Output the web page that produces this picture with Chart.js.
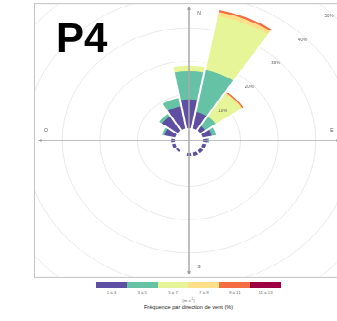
<!DOCTYPE html>
<html>
<head>
<meta charset="utf-8">
<script src="https://cdn.jsdelivr.net/npm/chart.js@4.4.0/dist/chart.umd.min.js"></script>
<style>
  html, body { margin: 0; padding: 0; background: #fff; }
  body { width: 337px; height: 321px; position: relative; overflow: hidden; font-family: "Liberation Sans", Arial, sans-serif; }
  #frame { position: absolute; left: 34px; top: 3px; width: 310px; height: 310px; box-sizing: border-box;
           border: 1px solid #c4c4c4; overflow: hidden; transform-origin: 0 0; transform: scaleY(0.887); }
  #rose { position: absolute; left: -48px; top: -48px; }
  #tag { position: absolute; left: 56px; top: 17px; font: bold 42px "Liberation Sans", Arial, sans-serif; line-height: 1; color: #000; }
  #bar { position: absolute; left: 96px; top: 282px; width: 185px; height: 6px; display: flex; }
  #bar div { flex: 1; }
  #ticks { position: absolute; left: 96px; top: 290px; width: 185px; display: flex; font-size: 4.3px; color: #666; }
  #ticks span { flex: 1; text-align: center; }
  #unit { position: absolute; left: 96px; top: 297px; width: 185px; text-align: center; font-size: 4.3px; color: #666; }
  #title { position: absolute; left: 96px; top: 304px; width: 185px; text-align: center; font-size: 5.6px; color: #222; }
</style>
</head>
<body>
<div id="frame"><canvas id="rose" width="404" height="404"></canvas></div>
<div id="tag">P4</div>
<div id="bar"></div>
<div id="ticks"></div>
<div id="unit">(m s<sup style="font-size:3px">-1</sup>)</div>
<div id="title">Fréquence par direction de vent (%)</div>
<script>
const directions = ['N', 'NNE', 'NE', 'ENE', 'E', 'ESE', 'SE', 'SSE', 'S', 'SSW', 'SW', 'WSW', 'W', 'WNW', 'NW', 'NNW'];
const speedClasses = ['1 à 3', '3 à 5', '5 à 7', '7 à 9', '9 à 11', '11 à 13'];
const classColors = ['#5e4fa2', '#66c2a5', '#e6f598', '#fee08b', '#f46d43', '#9e0142'];

// frequency (%) per direction for each speed class
const freq1to3  = [8.6, 5.0, 1.6, 2.5, 1.2, 1.0, 1.0, 1.0, 1.0, 0.0, 0.6, 0.9, 1.0, 3.0, 5.1, 6.8];
const freq3to5  = [8.4, 12.8, 3.4, 1.2, 0.4, 0, 0, 0, 0, 0, 0, 0, 0, 0.6, 0.9, 2.5];
const freq5to7  = [1.7, 16.6, 8.2, 0, 0, 0, 0, 0, 0, 0, 0, 0, 0, 0, 0, 0];
const freq7to9  = [0, 1.2, 0.3, 0, 0, 0, 0, 0, 0, 0, 0, 0, 0, 0, 0, 0];
const freq9to11 = [0, 0.6, 0.4, 0, 0, 0, 0, 0, 0, 0, 0, 0, 0, 0, 0, 0];
const freq11to13 = [0, 0, 0, 0, 0, 0, 0, 0, 0, 0, 0, 0, 0, 0, 0, 0];

const gridLabels = [10, 20, 30, 40, 50];
const cardinals = ['N', 'E', 'S', 'O'];

const holeMin = -3.73;   // empty centre of the rose, in % units
const classSeries = [freq1to3, freq3to5, freq5to7, freq7to9, freq9to11, freq11to13];

// stack the classes: each ring is drawn from the centre out to its cumulative value
const running = directions.map(() => 0);
const datasets = classSeries.map((series, k) => {
  const data = series.map((v, i) => {
    running[i] += v;
    return v > 0 ? running[i] : holeMin;
  });
  return {
    label: speedClasses[k],
    data: data,
    backgroundColor: classColors[k],
    borderWidth: 0
  };
});
const totals = running.slice();

const roseOverlay = {
  id: 'roseOverlay',
  afterDatasetsDraw(chart) {
    const s = chart.scales.r;
    const ctx = chart.ctx;
    const cx = s.xCenter, cy = s.yCenter;

    // white gaps between sectors
    ctx.save();
    ctx.strokeStyle = '#fff';
    ctx.lineWidth = 2;
    for (let i = 0; i < directions.length; i++) {
      const prev = totals[(i + directions.length - 1) % directions.length];
      const len = s.getDistanceFromCenterForValue(Math.max(prev, totals[i])) + 2;
      const p = s.getPointPosition(i, len);
      ctx.beginPath();
      ctx.moveTo(cx, cy);
      ctx.lineTo(p.x, p.y);
      ctx.stroke();
    }

    // hollow centre
    ctx.fillStyle = '#fff';
    ctx.beginPath();
    ctx.arc(cx, cy, s.getDistanceFromCenterForValue(0), 0, Math.PI * 2);
    ctx.fill();

    // N-S / E-O axes with arrow heads
    const L = s.getDistanceFromCenterForValue(36);
    ctx.strokeStyle = '#aaaaaa';
    ctx.fillStyle = '#999999';
    ctx.lineWidth = 1.5;
    ctx.beginPath();
    ctx.moveTo(cx - L, cy); ctx.lineTo(cx + L, cy);
    ctx.moveTo(cx, cy - L); ctx.lineTo(cx, cy + L);
    ctx.stroke();
    const heads = [[0, -1], [1, 0], [0, 1], [-1, 0]];
    heads.forEach(([dx, dy]) => {
      const tx = cx + dx * (L + 2), ty = cy + dy * (L + 2);
      const bx = cx + dx * (L - 2), by = cy + dy * (L - 2);
      ctx.beginPath();
      ctx.moveTo(tx, ty);
      ctx.lineTo(bx - dy * 2, by + dx * 2);
      ctx.lineTo(bx + dy * 2, by - dx * 2);
      ctx.closePath();
      ctx.fill();
    });

    // cardinal letters
    ctx.fillStyle = '#555';
    ctx.font = '5px "Liberation Sans", Arial, sans-serif';
    ctx.textAlign = 'center';
    ctx.textBaseline = 'middle';
    const d = s.getDistanceFromCenterForValue(34.3);
    ctx.fillText(cardinals[0], cx + 10, cy - d);
    ctx.fillText(cardinals[1], cx + d, cy - 11);
    ctx.fillText(cardinals[2], cx + 10, cy + d);
    ctx.fillText(cardinals[3], cx - d, cy - 11);

    // percentage labels along the NE diagonal
    ctx.font = '4.5px "Liberation Sans", Arial, sans-serif';
    ctx.fillStyle = '#666';
    gridLabels.forEach(v => {
      const r = s.getDistanceFromCenterForValue(v) - 4;
      ctx.fillText(v + '%', cx + r * Math.SQRT1_2, cy - r * Math.SQRT1_2);
    });
    ctx.restore();
  }
};

new Chart(document.getElementById('rose'), {
  type: 'polarArea',
  data: { labels: directions, datasets: datasets },
  options: {
    responsive: false,
    animation: false,
    layout: { padding: 0 },
    plugins: { legend: { display: false }, tooltip: { enabled: false } },
    scales: {
      r: {
        min: holeMin,
        max: 50,
        startAngle: -11.25,
        ticks: { display: false, stepSize: 10 },
        grid: {
          lineWidth: 1,
          color: c => (c.tick && c.tick.value > 0 ? '#e9e9e9' : 'rgba(0,0,0,0)')
        },
        angleLines: { display: false },
        pointLabels: { display: false }
      }
    }
  },
  plugins: [roseOverlay]
});

// colour bar legend
const bar = document.getElementById('bar');
const ticks = document.getElementById('ticks');
speedClasses.forEach((name, k) => {
  const seg = document.createElement('div');
  seg.style.background = classColors[k];
  bar.appendChild(seg);
  const lab = document.createElement('span');
  lab.textContent = name;
  ticks.appendChild(lab);
});
</script>
</body>
</html>
